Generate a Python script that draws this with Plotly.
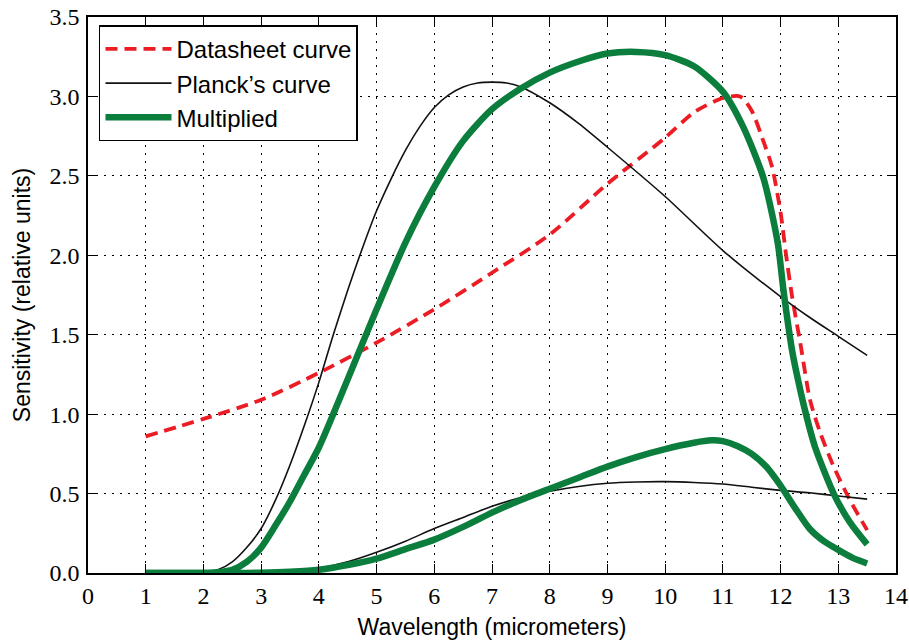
import plotly.graph_objects as go

# Datasheet curve
ds_x = [1, 2, 3, 4, 5, 6, 7, 8, 9, 10, 10.5, 11, 11.3, 11.5, 11.7, 11.85, 12.0, 12.1, 12.2, 12.35, 12.51, 12.69, 12.92, 13.2, 13.5]
ds_y = [0.86, 0.97, 1.09, 1.26, 1.45, 1.66, 1.89, 2.13, 2.45, 2.74, 2.90, 2.99, 3.0, 2.91, 2.72, 2.56, 2.27, 1.99, 1.74, 1.43, 1.09, 0.88, 0.67, 0.46, 0.27]

# Planck's curve (high and low temperature)
pk1_x = [1, 1.5, 2, 2.25, 2.5, 2.75, 3, 3.25, 3.5, 3.75, 4, 4.25, 4.5, 4.75, 5, 5.25, 5.5, 5.75, 6, 6.25, 6.5, 6.75, 7, 7.25, 7.5, 8, 8.5, 9, 10, 11, 12, 12.5, 13, 13.5]
pk1_y = [0, 0, 0.005, 0.02, 0.07, 0.16, 0.28, 0.46, 0.68, 0.93, 1.2, 1.5, 1.78, 2.04, 2.28, 2.48, 2.66, 2.81, 2.93, 3.01, 3.06, 3.085, 3.09, 3.085, 3.06, 2.96, 2.83, 2.68, 2.37, 2.03, 1.74, 1.61, 1.49, 1.37]
pk2_x = [1, 2, 2.5, 3, 3.5, 4, 4.5, 5, 5.5, 6, 6.5, 7, 7.5, 8, 8.5, 9, 9.5, 10, 10.5, 11, 11.5, 12, 12.5, 13, 13.5]
pk2_y = [0, 0, 0.001, 0.003, 0.012, 0.03, 0.07, 0.13, 0.2, 0.28, 0.35, 0.42, 0.475, 0.515, 0.545, 0.565, 0.573, 0.575, 0.57, 0.56, 0.54, 0.52, 0.505, 0.485, 0.465]

# Multiplied curves
mu1_x = [1, 1.5, 2, 2.25, 2.5, 2.75, 3, 3.25, 3.5, 3.75, 4, 4.5, 5, 5.5, 6, 6.5, 7, 7.5, 8, 8.5, 9, 9.5, 10, 10.5, 11, 11.35, 11.7, 11.95, 12.05, 12.2, 12.3, 12.44, 12.6, 12.92, 13.2, 13.5]
mu1_y = [0, 0, 0, 0.005, 0.02, 0.07, 0.16, 0.3, 0.45, 0.62, 0.79, 1.22, 1.66, 2.08, 2.43, 2.72, 2.92, 3.05, 3.15, 3.22, 3.27, 3.28, 3.26, 3.19, 3.03, 2.81, 2.49, 2.08, 1.78, 1.40, 1.22, 1.0, 0.79, 0.50, 0.32, 0.18]
mu2_x = [1, 2, 2.5, 3, 3.5, 4, 4.5, 5, 5.5, 6, 6.5, 7, 7.5, 8, 8.5, 9, 9.5, 10, 10.5, 10.8, 11, 11.25, 11.5, 11.75, 12, 12.25, 12.5, 12.75, 13, 13.25, 13.5]
mu2_y = [0, 0, 0, 0.002, 0.008, 0.02, 0.05, 0.09, 0.15, 0.21, 0.29, 0.38, 0.46, 0.53, 0.6, 0.67, 0.73, 0.78, 0.82, 0.835, 0.83, 0.80, 0.75, 0.67, 0.55, 0.41, 0.28, 0.20, 0.145, 0.095, 0.06]

x_ticks = list(range(0, 15))
y_ticks = [0.0, 0.5, 1.0, 1.5, 2.0, 2.5, 3.0, 3.5]

RED = "#ec1c24"
GREEN = "#0b7d3c"
SANS = "Liberation Sans, Arial, sans-serif"
SERIF = "Liberation Serif, Times New Roman, serif"

fig = go.Figure()
sm = 0.7
fig.add_trace(go.Scatter(x=ds_x, y=ds_y, mode="lines", name="Datasheet curve",
                         legendgroup="a",
                         line=dict(color=RED, width=3.8, dash="12px,7px", shape="spline", smoothing=sm)))
fig.add_trace(go.Scatter(x=pk1_x, y=pk1_y, mode="lines", name="Planck\u2019s curve",
                         legendgroup="b",
                         line=dict(color="#111111", width=1.6, shape="spline", smoothing=sm)))
fig.add_trace(go.Scatter(x=pk2_x, y=pk2_y, mode="lines", name="Planck\u2019s curve",
                         legendgroup="b", showlegend=False,
                         line=dict(color="#111111", width=1.6, shape="spline", smoothing=sm)))
fig.add_trace(go.Scatter(x=mu1_x, y=mu1_y, mode="lines", name="Multiplied",
                         legendgroup="c",
                         line=dict(color=GREEN, width=6.5, shape="spline", smoothing=sm)))
fig.add_trace(go.Scatter(x=mu2_x, y=mu2_y, mode="lines", name="Multiplied",
                         legendgroup="c", showlegend=False,
                         line=dict(color=GREEN, width=6.5, shape="spline", smoothing=sm)))

axis_common = dict(
    showline=True, linecolor="black", linewidth=1.5, mirror="ticks",
    ticks="inside", ticklen=9, tickwidth=1, tickcolor="black",
    showgrid=True, gridcolor="black", gridwidth=1, griddash="2px,6px",
    zeroline=False, automargin=False, ticklabeloverflow="allow",
    tickfont=dict(family=SERIF, size=24, color="black"),
    title_font=dict(family=SANS, size=23, color="black"),
)

fig.update_xaxes(range=[0, 14], tickvals=x_ticks, ticktext=[str(v) for v in x_ticks],
                 title_text="Wavelength (micrometers)", title_standoff=11, ticklabelstandoff=0,
                 **axis_common)
fig.update_yaxes(range=[0, 3.5], tickvals=y_ticks, ticktext=[f"{v:.1f}" for v in y_ticks],
                 title_text="Sensitivity (relative units)", title_standoff=12, ticklabelstandoff=2,
                 **axis_common)

fig.update_layout(
    width=909, height=644,
    margin=dict(l=88, r=13, t=17, b=71),
    plot_bgcolor="white", paper_bgcolor="white",
    legend=dict(x=0.0136, y=0.985, xanchor="left", yanchor="top",
                bgcolor="white", bordercolor="black", borderwidth=1.5,
                font=dict(family=SANS, size=24, color="black"),
                traceorder="grouped", tracegroupgap=0,
                itemwidth=66),
)

# Remove the default page margin so the 909x644 figure fills the window exactly.
fig.write_html("out.html", config={"displayModeBar": False},
               post_script="document.body.style.margin='0px';")
